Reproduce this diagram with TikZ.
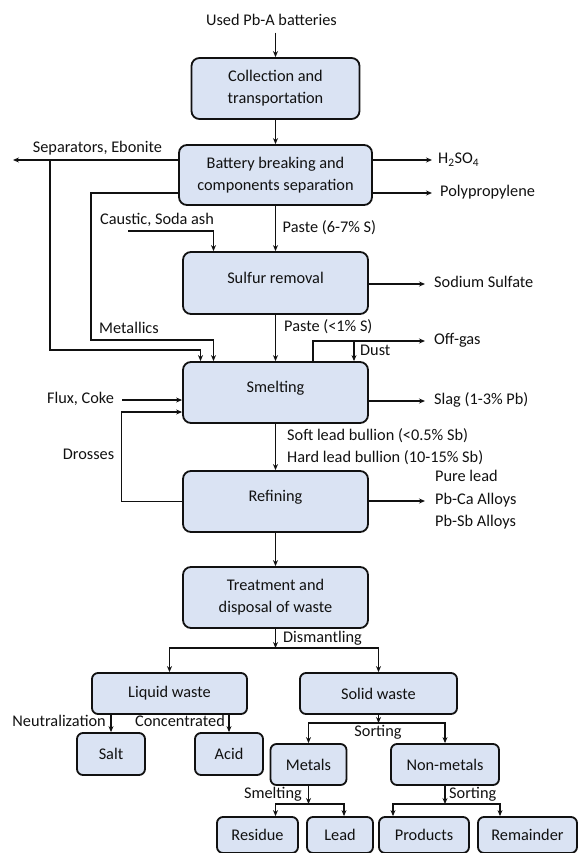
\documentclass[tikz,border=0pt]{standalone}
\usepackage{fontspec}
\setmainfont{Carlito}
\usepackage{xcolor}
\usepackage{tikz}
\usetikzlibrary{arrows.meta}
\definecolor{boxfill}{HTML}{DAE3F3}
\definecolor{ink}{HTML}{111111}
\tikzset{
  proc/.style={draw=ink, fill=boxfill, line width=1.8pt, rounded corners=8pt, align=center, inner sep=0pt, text=ink, font=\fontsize{16.3}{22}\selectfont},
  mid/.style={text height=11pt, text depth=11pt},
  small/.style={proc, rounded corners=6pt},
  flow/.style={draw=ink, line width=1.1pt, -{Stealth[length=6pt,width=5pt]}},
  lab/.style={text=ink, inner sep=0pt, text height=11pt, text depth=4pt, font=\fontsize{16.3}{22}\selectfont},
}

\begin{document}
\begin{tikzpicture}[x=1pt,y=-1pt]
  \useasboundingbox (0,0) rectangle (583,853);
  % main line
  \node[lab] (src) at (271.5,22) {Used Pb-A batteries};
  \node[proc, minimum width=168pt, minimum height=61pt] (coll) at (275.5,88.5) {Collection and\\transportation};
  \node[proc, minimum width=193pt, minimum height=60pt] (brk) at (275.5,175) {Battery breaking and\\components separation};
  \node[proc, mid, minimum width=185pt, minimum height=62pt] (sulf) at (275.5,283) {Sulfur removal};
  \node[proc, mid, minimum width=185pt, minimum height=61pt] (smelt) at (275.5,392.5) {Smelting};
  \node[proc, mid, minimum width=185pt, minimum height=61pt] (refin) at (275.5,501.5) {Refining};
  \node[proc, minimum width=185pt, minimum height=61pt] (treat) at (275.5,597.5) {Treatment and\\disposal of waste};
  % waste tree
  \node[small, minimum width=155pt, minimum height=41pt] (liq) at (169.5,693.5) {Liquid waste};
  \node[small, minimum width=157pt, minimum height=41pt] (sol) at (378.5,693.5) {Solid waste};
  \node[small, minimum width=68pt, minimum height=42pt] (salt) at (111,754) {Salt};
  \node[small, minimum width=68pt, minimum height=42pt] (acid) at (229,754) {Acid};
  \node[small, minimum width=76pt, minimum height=41pt] (met) at (308.5,764.5) {Metals};
  \node[small, minimum width=108pt, minimum height=41pt] (nonmet) at (445,764.5) {Non-metals};
  \node[small, minimum width=81pt, minimum height=36pt] (res) at (257.5,835) {Residue};
  \node[small, minimum width=66pt, minimum height=36pt] (lead) at (340,835) {Lead};
  \node[small, minimum width=90pt, minimum height=36pt] (prod) at (424,835) {Products};
  \node[small, minimum width=99pt, minimum height=36pt] (rem) at (527.5,835) {Remainder};

  % side labels
  \node[lab] (sep) at (97.5,149) {Separators, Ebonite};
  \node[lab, anchor=west] (h2so4) at (438,160) {H\textsubscript{2}SO\textsubscript{4}};
  \node[lab, anchor=west] (poly) at (440,193) {Polypropylene};
  \node[lab, anchor=west] (paste1) at (282.5,229) {Paste (6-7\% S)};
  \node[lab] (caus) at (157,221) {Caustic, Soda ash};
  \node[lab, anchor=west] (sodium) at (434,284) {Sodium Sulfate};
  \node[lab] (metal) at (129,330) {Metallics};
  \node[lab, anchor=west] (paste2) at (284,328) {Paste (<1\% S)};
  \node[lab, anchor=west] (offgas) at (434,341) {Off-gas};
  \node[lab, anchor=west] (dust) at (360,352) {Dust};
  \node[lab] (flux) at (80.5,400) {Flux, Coke};
  \node[lab, anchor=west] (slag) at (434,401) {Slag (1-3\% Pb)};
  \node[lab, anchor=west] (soft) at (287,437) {Soft lead bullion (<0.5\% Sb)};
  \node[lab, anchor=west] (hard) at (287,459) {Hard lead bullion (10-15\% Sb)};
  \node[lab] (dross) at (88.5,456) {Drosses};
  \node[lab, anchor=west] (pure) at (435,478) {Pure lead};
  \node[lab, anchor=west] (pbca) at (435,501) {Pb-Ca Alloys};
  \node[lab, anchor=west] (pbsb) at (435,523) {Pb-Sb Alloys};
  \node[lab, anchor=west] (dism) at (283,639) {Dismantling};
  \node[lab, anchor=east] (neut) at (106,723) {Neutralization};
  \node[lab, anchor=east] (conc) at (225,723) {Concentrated};
  \node[lab] (sort1l) at (378,733) {Sorting};
  \node[lab, anchor=east] (smeltl) at (302,795) {Smelting};
  \node[lab, anchor=west] (sort3l) at (449,795) {Sorting};

  \coordinate (sepEnd) at (13,160);
  \coordinate (sepDrop) at (50,350);
  \coordinate (metDrop) at (91,340);
  \coordinate (causStart) at (128,231);
  \coordinate (drossX) at (121.5,412);
  \coordinate (sepIn) at ([xshift=-75pt]smelt.north);
  \coordinate (metIn) at ([xshift=-62pt]smelt.north);
  \coordinate (causIn) at ([xshift=-62pt]sulf.north);
  \coordinate (gasOut) at ([xshift=37.5pt]smelt.north);
  \coordinate (dustIn) at ([xshift=78.5pt]smelt.north);
  \coordinate (split) at (275.5,648);
  \coordinate (sort1) at (378.5,723);
  \coordinate (sort2) at (308.5,804);
  \coordinate (sort3) at (445,804);
  \coordinate (resIn) at ([xshift=18pt]res.north);
  \coordinate (leadIn) at ([xshift=4pt]lead.north);
  \coordinate (prodIn) at ([xshift=-31pt]prod.north);
  \coordinate (remIn) at ([xshift=-27.5pt]rem.north);

  % connectors
  \draw[flow] ([yshift=-3pt]src.south -| coll.north) -- (coll.north);
  \draw[flow] (coll) -- (brk);
  \draw[flow] (brk.west |- sepEnd) -- (sepEnd);
  \draw[flow] (sepEnd -| sepDrop) -- (sepDrop) -| (sepIn);
  \draw[flow] ([yshift=-18pt]brk.west) -| (metDrop) -| (metIn);
  \draw[flow] (brk.east |- h2so4) -- ([xshift=-6pt]h2so4.west);
  \draw[flow] (brk.east |- poly) -- ([xshift=-8pt]poly.west);
  \draw[flow] (brk) -- (sulf);
  \draw[flow] (causStart) -| (causIn);
  \draw[flow] (sulf.east |- sodium) -- ([xshift=-9pt]sodium.west);
  \draw[flow] (sulf) -- (smelt);
  \draw[flow] (gasOut) |- ([xshift=-9pt]offgas.west);
  \draw[flow] (dustIn |- offgas) -- (dustIn);
  \draw[flow] ([xshift=8pt]flux.east) -- (flux -| smelt.west);
  \draw[flow] (smelt.east |- slag) -- ([xshift=-9pt]slag.west);
  \draw[flow] (smelt) -- (refin);
  \draw[flow] (refin.west) -| (drossX) -- (drossX -| smelt.west);
  \draw[flow] (refin.east |- pbca) -- ([xshift=-10pt]pbca.west);
  \draw[flow] (refin) -- (treat);
  \draw[flow] (treat) -- (split);
  \draw[flow] (split) -| (liq);
  \draw[flow] (split) -| (sol);
  \draw[flow] (liq.south -| salt) -- (salt);
  \draw[flow] (liq.south -| acid) -- (acid);
  \draw[flow] (sol) -- (sort1);
  \draw[flow] (sort1) -| (met);
  \draw[flow] (sort1) -| (nonmet);
  \draw[flow] (met) -- (sort2);
  \draw[flow] (sort2) -| (resIn);
  \draw[flow] (sort2) -| (leadIn);
  \draw[flow] (nonmet) -- (sort3);
  \draw[flow] (sort3) -| (prodIn);
  \draw[flow] (sort3) -| (remIn);
\end{tikzpicture}
\end{document}
